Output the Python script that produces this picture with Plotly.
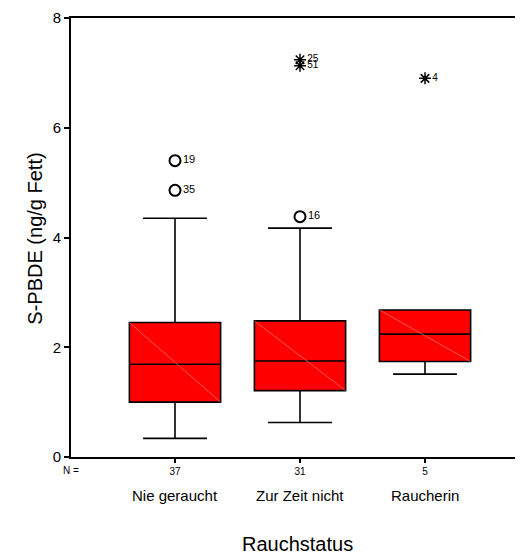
import plotly.graph_objects as go

# ---- data ----
categories = ["Nie geraucht", "Zur Zeit nicht", "Raucherin"]
counts = ["37", "31", "5"]
positions = [1, 2, 3]
q1 = [1.00, 1.21, 1.74]
median = [1.69, 1.75, 2.24]
q3 = [2.45, 2.48, 2.68]
lower_whisker = [0.34, 0.63, 1.51]
upper_whisker = [4.35, 4.17, 2.68]

outlier_x = [1, 1, 2]
outlier_y = [5.40, 4.86, 4.38]
outlier_labels = ["19", "35", "16"]

extreme_x = [2, 2, 3]
extreme_y = [7.24, 7.13, 6.90]
extreme_labels = ["25", "51", "4"]

yticks = [0, 2, 4, 6, 8]

BOX_W = 0.73
FONT = "Liberation Sans, Arial, sans-serif"

fig = go.Figure()

fig.add_trace(go.Box(
    x=positions, q1=q1, median=median, q3=q3,
    lowerfence=lower_whisker, upperfence=upper_whisker,
    width=BOX_W, whiskerwidth=0.7,
    fillcolor="#ff0000", line=dict(color="black", width=1.6),
    boxpoints=False, showlegend=False, hoverinfo="skip",
))

# thin diagonal decorations inside each box
for p, a, b in zip(positions, q3, q1):
    fig.add_trace(go.Scatter(
        x=[p - BOX_W / 2, p + BOX_W / 2], y=[a, b], mode="lines",
        line=dict(color="#ff9090", width=0.6), showlegend=False, hoverinfo="skip",
    ))

fig.add_trace(go.Scatter(
    x=outlier_x, y=outlier_y, mode="markers+text",
    marker=dict(symbol="circle-open", size=11, color="black", line=dict(width=2, color="black")),
    text=outlier_labels, textposition="middle right",
    textfont=dict(size=11, color="black", family=FONT),
    showlegend=False, hoverinfo="skip",
))

fig.add_trace(go.Scatter(
    x=extreme_x, y=extreme_y, mode="markers+text",
    marker=dict(symbol="asterisk-open", size=10, color="black", line=dict(width=1.5, color="black")),
    text=extreme_labels, textposition="middle right",
    textfont=dict(size=10, color="black", family=FONT),
    showlegend=False, hoverinfo="skip",
))

# category labels
for p, c in zip(positions, categories):
    fig.add_annotation(x=p, y=-0.0866, xref="x", yref="paper", text=c, showarrow=False,
                       font=dict(size=15, color="black", family=FONT), yanchor="middle")

fig.add_annotation(x=0.0, y=-0.03, xref="paper", yref="paper", text="N =", showarrow=False,
                   font=dict(size=10, color="black", family=FONT), xanchor="center", yanchor="middle")

fig.add_annotation(x=0.502, y=-0.199, xref="paper", yref="paper",
                   text="Rauchstatus", showarrow=False,
                   font=dict(size=20, color="black", family=FONT), xanchor="center", yanchor="middle")

fig.add_annotation(x=-0.08, y=0.497, xref="paper", yref="paper", text="S-PBDE (ng/g Fett)",
                   textangle=-90, showarrow=False,
                   font=dict(size=20, color="black", family=FONT), xanchor="center", yanchor="middle")

fig.update_layout(
    width=515, height=546,
    margin=dict(l=63, r=0, t=10, b=97),
    paper_bgcolor="white", plot_bgcolor="white",
    font=dict(family=FONT, color="black"),
    xaxis=dict(
        range=[0.168, 3.784], tickvals=positions, ticktext=counts,
        tickfont=dict(size=10), ticks="outside", ticklen=4, tickwidth=1.5, tickcolor="black",
        showline=True, linecolor="black", linewidth=2, mirror=True,
        showgrid=False, zeroline=False,
    ),
    yaxis=dict(
        range=[0, 8], tickvals=yticks, tickfont=dict(size=15),
        ticks="outside", ticklen=5, tickwidth=1.5, tickcolor="black",
        showline=True, linecolor="black", linewidth=2, mirror=False,
        showgrid=False, zeroline=False,
    ),
)

fig.write_html("out.html")
